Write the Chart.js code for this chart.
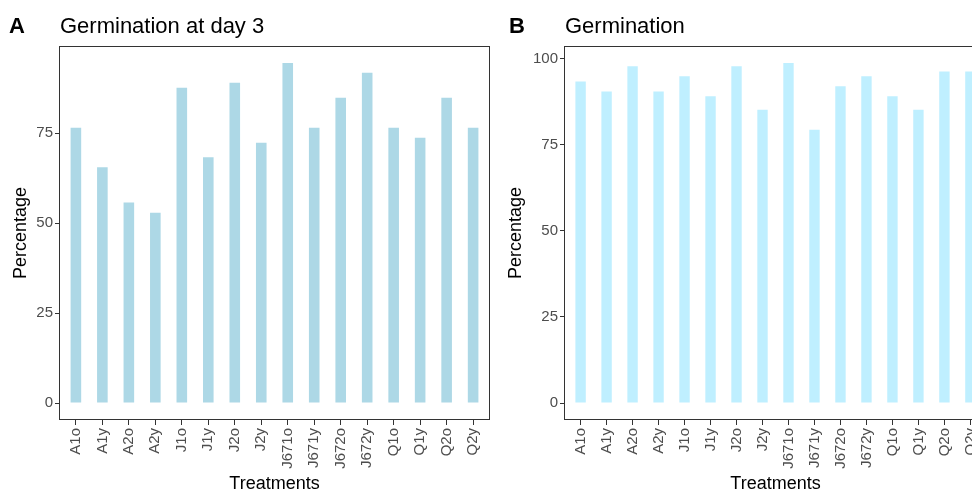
<!DOCTYPE html>
<html>
<head>
<meta charset="utf-8">
<script src="https://cdn.jsdelivr.net/npm/chart.js@4"></script>
<style>
  html, body { margin: 0; padding: 0; background: #fff; overflow: hidden; }
  body { width: 972px; height: 491px; position: relative; }
  canvas { position: absolute; top: 0; }
  #chartA { left: 0; }
  #chartB { left: 500px; }
</style>
</head>
<body>
<canvas id="chartA" width="495" height="496"></canvas>
<canvas id="chartB" width="492" height="496"></canvas>
<script>
const treatments = ["A1o", "A1y", "A2o", "A2y", "J1o", "J1y", "J2o", "J2y",
  "J671o", "J671y", "J672o", "J672y", "Q1o", "Q1y", "Q2o", "Q2y"];

// germination at day 3 (%)
const day3 = [76.5, 65.5, 55.7, 52.9, 87.6, 68.3, 89.0, 72.3,
  94.5, 76.5, 84.8, 91.8, 76.5, 73.7, 84.8, 76.5];

// final germination (%)
const germination = [93.3, 90.4, 97.7, 90.4, 94.8, 89.0, 97.7, 85.1,
  98.7, 79.3, 91.9, 94.8, 89.0, 85.1, 96.2, 96.2];

const ticksA = [0, 25, 50, 75];
const ticksB = [0, 25, 50, 75, 100];

const FONT = "'Liberation Sans', Arial, sans-serif";
const INK = "#333333";
const TICK_TXT = "#4D4D4D";

// panel letter + title, plus the full box round the plot
const panelDeco = {
  id: "panelDeco",
  afterDraw(chart, args, opts) {
    const { ctx, chartArea: a } = chart;
    ctx.save();
    ctx.strokeStyle = INK;
    ctx.lineWidth = 1;
    ctx.strokeRect(Math.round(a.left) - 0.5, Math.round(a.top) + 0.5,
      Math.round(a.right - a.left) + 1, Math.round(a.bottom - a.top) - 1);
    ctx.fillStyle = "#000";
    ctx.textBaseline = "alphabetic";
    ctx.textAlign = "left";
    ctx.font = "bold 22px " + FONT;
    ctx.fillText(opts.tag, 9, 33);
    ctx.font = "22px " + FONT;
    ctx.fillText(opts.text, a.left, 33);
    ctx.restore();
  }
};

function makePanel(id, values, color, yTicks, yMin, yMax, yWidth, yTitlePad, tag, text) {
  const pts = values.map((v, i) => ({ x: i, y: v }));
  return new Chart(document.getElementById(id), {
    type: "bar",
    data: {
      datasets: [{
        data: pts,
        backgroundColor: color,
        borderWidth: 0,
        categoryPercentage: 1,
        barPercentage: 0.4
      }]
    },
    options: {
      responsive: false,
      animation: false,
      devicePixelRatio: 1,
      layout: { padding: { top: 46, right: 6, left: 0, bottom: 0 } },
      plugins: {
        legend: { display: false },
        tooltip: { enabled: false },
        panelDeco: { tag: tag, text: text }
      },
      scales: {
        x: {
          type: "linear",
          offset: false,
          min: -0.6,
          max: treatments.length - 0.4,
          afterBuildTicks: s => { s.ticks = treatments.map((t, i) => ({ value: i })); },
          afterFit: s => { s.height = 76; s.paddingLeft = 0; s.paddingRight = 0; },
          border: { display: false },
          grid: { offset: false, drawOnChartArea: false, drawTicks: true, tickLength: 5, color: INK },
          ticks: {
            autoSkip: false,
            minRotation: 90,
            maxRotation: 90,
            padding: 3,
            color: TICK_TXT,
            font: { family: FONT, size: 15 },
            callback: v => treatments[v]
          },
          title: {
            display: true,
            text: "Treatments",
            color: "#000",
            font: { family: FONT, size: 18 },
            padding: { top: 0, bottom: 1.4 }
          }
        },
        y: {
          min: yMin,
          max: yMax,
          afterBuildTicks: s => { s.ticks = yTicks.map(v => ({ value: v })); },
          afterFit: s => { s.width = yWidth; },
          border: { display: false },
          grid: { drawOnChartArea: false, drawTicks: true, tickLength: 5, color: INK },
          ticks: {
            padding: 2,
            color: TICK_TXT,
            font: { family: FONT, size: 15 }
          },
          title: {
            display: true,
            text: "Percentage",
            color: "#000",
            font: { family: FONT, size: 18 },
            padding: { top: yTitlePad, bottom: 0 }
          }
        }
      }
    },
    plugins: [panelDeco]
  });
}

makePanel("chartA", day3, "#ADD8E6", ticksA, -4.72, 99.2, 60, 10.2, "A", "Germination at day 3");
makePanel("chartB", germination, "#BFEFFF", ticksB, -4.93, 103.6, 65, 5.2, "B", "Germination");
</script>
</body>
</html>
